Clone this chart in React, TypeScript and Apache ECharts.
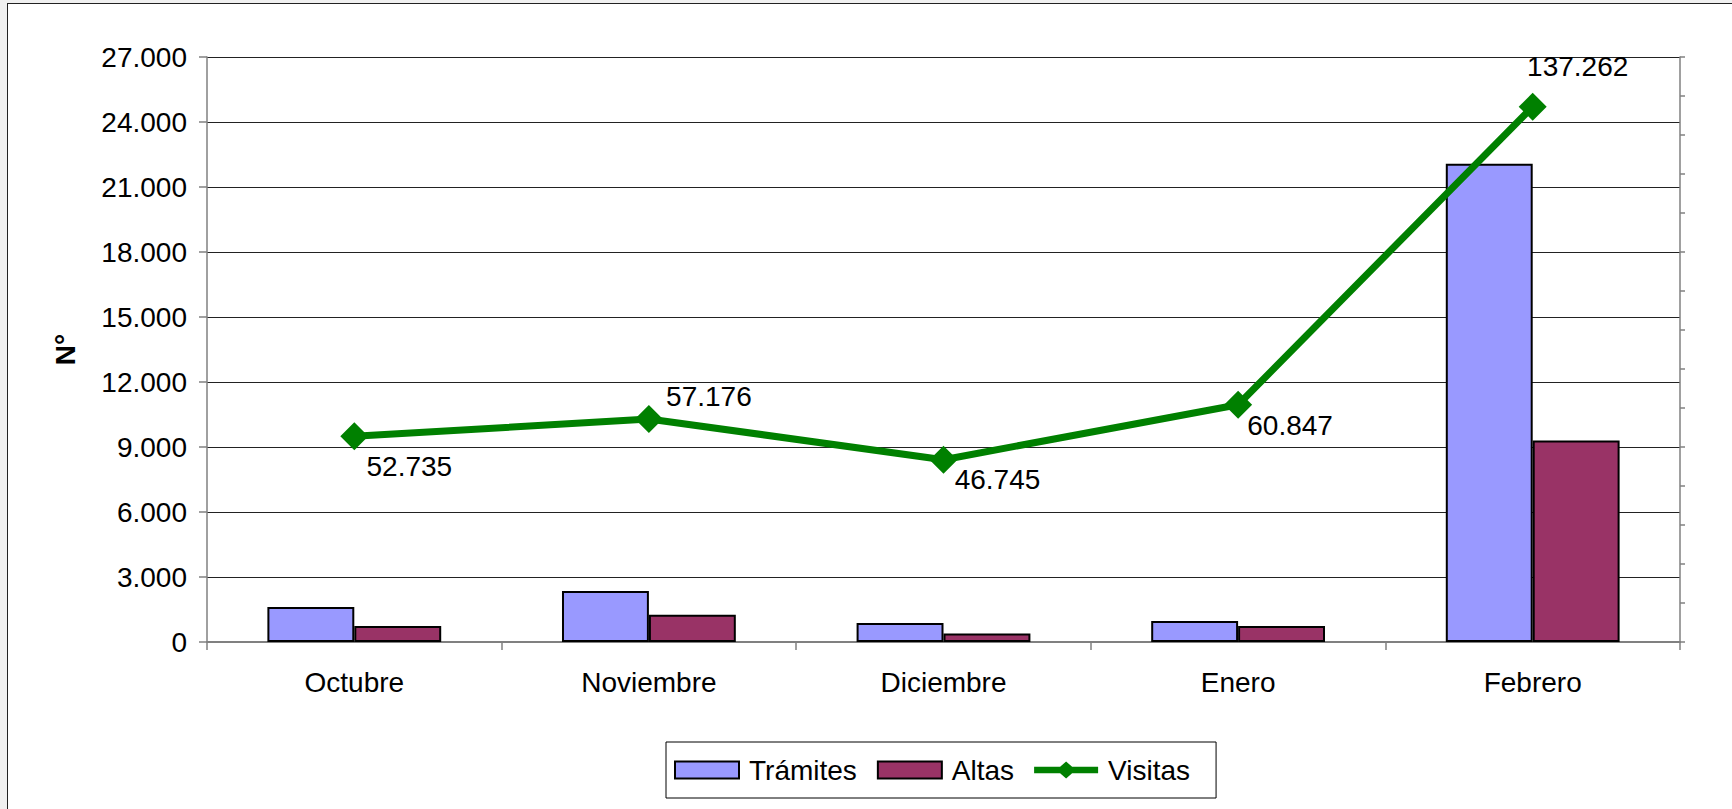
import React, { useEffect, useRef } from "react";
import * as echarts from "echarts";

const categories = ["Octubre", "Noviembre", "Diciembre", "Enero", "Febrero"];
const tramites = [1615, 2354, 877, 970, 22078];
const altas = [738, 1262, 388, 740, 9303];
const visitas = [52735, 57176, 46745, 60847, 137262];

// label placement (layout only)
const labelOffsets: [number, number][] = [
  [55, 30],
  [60, -23],
  [54, 20],
  [52, 21],
  [45, -40],
];

const FONT = "'Liberation Sans', Arial, sans-serif";
const LINE_ICON =
  "path://M0,5 L26,5 L32,0 L38,5 L64,5 L64,11 L38,11 L32,16 L26,11 L0,11 Z";

function fmt(v: number): string {
  const s = Math.round(v).toString();
  return s.replace(/\B(?=(\d{3})+(?!\d))/g, ".");
}

export default function App() {
  const ref = useRef<HTMLDivElement>(null);
  useEffect(() => {
    if (!ref.current) return;
    const chart = echarts.init(ref.current, undefined, { renderer: "svg" });
    chart.setOption({
      animation: false,
      backgroundColor: "transparent",
      textStyle: { fontFamily: FONT },
      grid: { left: 207, right: 52, top: 57, bottom: 167, containLabel: false },
      legend: {
        left: 666,
        top: 742,
        padding: [14, 26, 14, 8],
        borderColor: "#000",
        borderWidth: 1,
        backgroundColor: "#fff",
        itemWidth: 64,
        itemHeight: 17,
        itemGap: 20,
        symbolKeepAspect: false,
        textStyle: { fontFamily: FONT, fontSize: 28, color: "#000", padding: [0, 6, 0, 5] },
        data: [
          { name: "Trámites", icon: "rect" },
          { name: "Altas", icon: "rect" },
          { name: "Visitas", icon: LINE_ICON, itemStyle: { color: "#008000", borderWidth: 0 } },
        ],
      },
      xAxis: {
        type: "category",
        data: categories,
        boundaryGap: true,
        axisLine: { show: true, lineStyle: { color: "#808080", width: 2 } },
        axisTick: { show: true, alignWithLabel: false, length: 8, lineStyle: { color: "#808080", width: 1.5 } },
        axisLabel: { fontFamily: FONT, fontSize: 28, color: "#000", margin: 26 },
      },
      yAxis: [
        {
          type: "value",
          min: 0,
          max: 27000,
          interval: 3000,
          name: "N°",
          nameLocation: "middle",
          nameRotate: 90,
          nameGap: 128,
          nameTextStyle: { fontFamily: FONT, fontSize: 28, fontWeight: "bold", color: "#000" },
          axisLine: { show: true, lineStyle: { color: "#808080", width: 1.5 } },
          axisTick: { show: true, length: 8, lineStyle: { color: "#808080", width: 1.5 } },
          axisLabel: { fontFamily: FONT, fontSize: 28, color: "#000", margin: 20, formatter: (v: number) => fmt(v) },
          splitLine: { show: true, lineStyle: { color: "#222", width: 1 } },
        },
        {
          type: "value",
          min: 0,
          max: 150000,
          interval: 10000,
          position: "right",
          axisLine: { show: true, lineStyle: { color: "#808080", width: 1.5 } },
          axisTick: { show: true, length: 5, lineStyle: { color: "#808080", width: 1.5 } },
          axisLabel: { show: false },
          splitLine: { show: false },
        },
      ],
      series: [
        {
          name: "Trámites",
          type: "bar",
          data: tramites,
          barGap: "0%",
          barCategoryGap: "41%",
          itemStyle: { color: "#9999FF", borderColor: "#000", borderWidth: 2 },
        },
        {
          name: "Altas",
          type: "bar",
          data: altas,
          barGap: "0%",
          barCategoryGap: "41%",
          itemStyle: { color: "#993366", borderColor: "#000", borderWidth: 2 },
        },
        {
          name: "Visitas",
          type: "line",
          yAxisIndex: 1,
          data: visitas.map((v, i) => ({
            value: v,
            label: {
              show: true,
              position: "inside",
              offset: labelOffsets[i],
              align: "center",
              verticalAlign: "middle",
            },
          })),
          symbol: "diamond",
          symbolSize: 28,
          lineStyle: { color: "#008000", width: 7 },
          itemStyle: { color: "#008000" },
          label: {
            show: true,
            fontFamily: FONT,
            fontSize: 28,
            color: "#000",
            formatter: (p: any) => fmt(p.value),
          },
          z: 5,
        },
      ],
    });
    return () => chart.dispose();
  }, []);

  return (
    <div
      style={{
        position: "fixed",
        left: 0,
        top: 0,
        width: 1732,
        height: 809,
        background: "#f0f0f0",
        overflow: "hidden",
      }}
    >
      <div
        style={{
          position: "absolute",
          left: 7,
          top: 3,
          width: 1800,
          height: 900,
          background: "#fff",
          borderLeft: "1.5px solid #222",
          borderTop: "1.5px solid #222",
        }}
      />
      <div ref={ref} style={{ position: "absolute", left: 0, top: 0, width: 1732, height: 809 }} />
    </div>
  );
}
